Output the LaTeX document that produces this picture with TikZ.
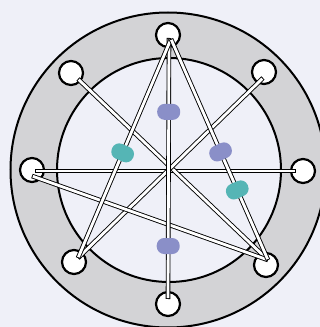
\documentclass[tikz,border=0pt]{standalone}
\usetikzlibrary{calc}
\definecolor{bg}{HTML}{EFF0F8}
\definecolor{ringc}{HTML}{D3D3D6}
\definecolor{lav}{HTML}{8A8FC8}
\definecolor{tealc}{HTML}{55B5B5}
\begin{document}
\begin{tikzpicture}[x=1pt,y=1pt,
  port/.style={circle, draw=black, fill=white, line width=2.2, minimum size=24, inner sep=0},
  wireout/.style={draw=black, line width=4.6},
  wirein/.style={draw=white, line width=2.8, shorten <=0.9, shorten >=0.9},
  blob/.style={rectangle, rounded corners=7.5, minimum width=16, minimum height=23, inner sep=0, sloped}]
\path[use as bounding box, fill=bg] (0,0) rectangle (320,327);
\clip (0,0) rectangle (320,327);
\node[circle, draw=black, fill=ringc, line width=2, minimum size=315, inner sep=0] (outer) at (168,157) {};
\node[circle, draw=black, fill=bg, line width=2, minimum size=224, inner sep=0] (inner) at (169,157) {};
% ports
\node[port] (T)  at (168,292) {};
\node[port] (TL) at (71,254) {};
\node[port] (TR) at (264,255) {};
\node[port] (L)  at (32,157) {};
\node[port] (R)  at (303,156) {};
\node[port] (BL) at (74,65) {};
\node[port] (BR) at (266,62) {};
\node[port] (B)  at (168,23) {};
% wire ends
\coordinate (eT) at (171,288);
\coordinate (eTv) at (169,289);
\coordinate (eTL) at (78,248);
\coordinate (eTR) at (263,249);
\coordinate (eL) at (35,156);
\coordinate (eLd) at (32,151);
\coordinate (eR) at (296,156);
\coordinate (eBL) at (78,69);
\coordinate (eBR) at (268,67);
\coordinate (eB) at (168,28);
\foreach \a/\b in {eL/eR, eTL/eBR, eTR/eBL, eLd/eBR, eTv/eB, eT/eBL, eT/eBR}{
  \draw[wireout] (\a) -- (\b);
  \draw[wirein] (\a) -- (\b);
}
% blobs
\path (eTv) -- node[blob, fill=lav, pos=0.283] (p1) {} (eB);
\path (eTv) -- node[blob, fill=lav, pos=0.797] (p3) {} (eB);
\path (eT) -- node[blob, fill=tealc, pos=0.52] (t1) {} (eBL);
\path (eT) -- node[blob, fill=lav, pos=0.511] (p2) {} (eBR);
\path (eT) -- node[blob, fill=tealc, pos=0.683] (t2) {} (eBR);
\end{tikzpicture}
\end{document}
